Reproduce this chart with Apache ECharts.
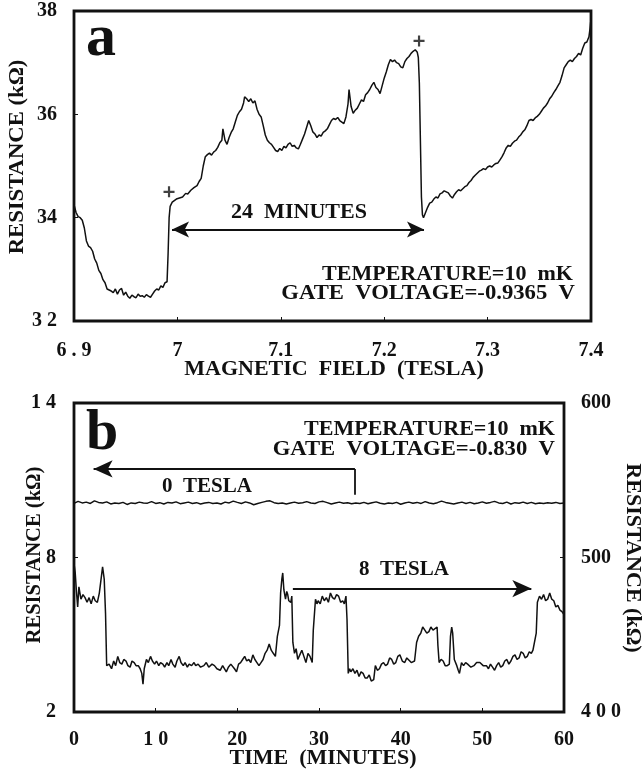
<!DOCTYPE html>
<html>
<head>
<meta charset="utf-8">
<script src="https://cdn.jsdelivr.net/npm/echarts@6/dist/echarts.min.js"></script>
<style>html,body{margin:0;padding:0;background:#fff}#c{width:642px;height:769px}</style>
</head>
<body>
<div id="c"></div>
<script>
// ---------- DATA ----------
// Panel a: resistance (kΩ) vs magnetic field (T)
const curveA = [
[6.900,34.25],[6.902,34.10],[6.904,34.02],[6.906,34.00],[6.908,33.95],[6.910,33.80],[6.912,33.55],[6.914,33.45],[6.916,33.42],[6.918,33.35],[6.920,33.20],[6.922,33.12],[6.924,32.98],[6.926,32.92],[6.928,32.80],[6.930,32.74],[6.932,32.62],[6.934,32.60],[6.936,32.58],[6.938,32.55],[6.940,32.62],[6.942,32.52],[6.944,32.60],[6.946,32.63],[6.948,32.50],[6.950,32.56],[6.952,32.48],[6.954,32.44],[6.956,32.50],[6.958,32.47],[6.960,32.45],[6.962,32.52],[6.964,32.48],[6.966,32.49],[6.968,32.46],[6.970,32.51],[6.972,32.48],[6.974,32.46],[6.976,32.52],[6.978,32.58],[6.980,32.62],[6.982,32.60],[6.984,32.68],[6.986,32.65],[6.988,32.74],[6.990,32.76],
[6.991,33.30],[6.992,34.00],[6.993,34.22],[6.995,34.30],[6.997,34.33],[6.999,34.36],[7.002,34.38],[7.005,34.40],[7.008,34.47],[7.010,34.46],[7.013,34.53],[7.016,34.58],[7.019,34.62],[7.021,34.70],[7.023,34.76],[7.025,35.00],[7.027,35.18],[7.029,35.22],[7.031,35.25],[7.033,35.21],[7.035,35.27],[7.037,35.30],[7.039,35.36],[7.041,35.45],[7.043,35.50],[7.044,35.72],[7.046,35.50],[7.048,35.42],[7.050,35.55],[7.052,35.65],[7.054,35.72],[7.056,35.85],[7.058,35.98],[7.060,36.05],[7.062,36.10],[7.064,36.22],[7.065,36.34],[7.067,36.30],[7.069,36.25],[7.071,36.30],[7.073,36.22],[7.075,36.26],[7.077,36.10],[7.079,36.00],[7.081,35.95],[7.083,35.78],[7.085,35.60],[7.087,35.50],[7.089,35.45],[7.091,35.42],[7.093,35.36],[7.095,35.30],[7.097,35.28],[7.099,35.34],[7.101,35.30],[7.103,35.38],[7.105,35.35],[7.107,35.42],[7.109,35.45],[7.111,35.38],[7.113,35.40],[7.115,35.35],[7.117,35.33],[7.119,35.42],[7.121,35.52],[7.123,35.62],[7.125,35.75],[7.127,35.88],[7.129,35.78],[7.131,35.66],[7.133,35.62],[7.135,35.55],[7.137,35.60],[7.139,35.58],[7.141,35.65],[7.143,35.68],[7.145,35.72],[7.147,35.80],[7.149,35.88],[7.151,35.92],[7.153,35.90],[7.155,35.94],[7.157,35.88],[7.159,35.85],[7.161,35.82],[7.163,35.95],[7.165,36.20],[7.166,36.48],[7.168,36.15],[7.170,36.02],[7.172,36.08],[7.174,36.12],[7.176,36.20],[7.178,36.28],[7.180,36.25],[7.182,36.38],[7.184,36.42],[7.186,36.48],[7.188,36.56],[7.190,36.62],[7.192,36.52],[7.194,36.48],[7.196,36.40],[7.198,36.55],[7.200,36.70],[7.202,36.82],[7.204,36.96],[7.206,37.06],[7.208,37.02],[7.210,37.05],[7.212,37.00],[7.214,36.98],[7.216,36.92],[7.218,36.90],[7.220,37.02],[7.222,37.08],[7.224,37.12],[7.226,37.18],[7.228,37.22],[7.230,37.25],[7.232,37.20],[7.233,37.10],[7.234,36.60],[7.235,35.50],[7.236,34.40],[7.237,34.05],[7.238,34.00],
[7.240,34.10],[7.242,34.20],[7.244,34.28],[7.246,34.30],[7.248,34.36],[7.250,34.40],[7.252,34.38],[7.254,34.46],[7.256,34.48],[7.258,34.52],[7.260,34.50],[7.262,34.48],[7.264,34.42],[7.266,34.38],[7.268,34.45],[7.270,34.50],[7.272,34.54],[7.274,34.52],[7.276,34.56],[7.278,34.60],[7.280,34.62],[7.282,34.68],[7.284,34.72],[7.286,34.78],[7.288,34.82],[7.290,34.86],[7.292,34.90],[7.294,34.92],[7.296,34.95],[7.298,34.93],[7.300,34.98],[7.302,35.00],[7.304,34.98],[7.306,35.02],[7.308,35.05],[7.310,35.06],[7.312,35.12],[7.314,35.18],[7.316,35.26],[7.318,35.35],[7.320,35.40],[7.322,35.38],[7.324,35.44],[7.326,35.48],[7.328,35.50],[7.330,35.56],[7.332,35.60],[7.334,35.66],[7.336,35.70],[7.338,35.78],[7.340,35.88],[7.342,35.90],[7.344,35.88],[7.346,35.93],[7.348,35.96],[7.350,36.00],[7.352,36.06],[7.354,36.12],[7.356,36.16],[7.358,36.22],[7.360,36.30],[7.362,36.35],[7.364,36.42],[7.366,36.48],[7.368,36.55],[7.370,36.62],[7.372,36.75],[7.374,36.90],[7.376,36.96],[7.378,37.02],[7.380,37.05],[7.382,37.02],[7.384,37.08],[7.386,37.12],[7.388,37.18],[7.390,37.15],[7.392,37.28],[7.394,37.38],[7.396,37.40],[7.398,37.50],[7.399,37.65],[7.400,37.85]
];
const plusMarksA = [[6.9919,34.50],[7.2337,37.42]];

// Panel b: resistance vs time (minutes)
const trace0T = [ // left axis, kΩ
[0,10.10],[0.5,10.18],[1,10.12],[1.5,10.15],[2,10.10],[2.5,10.20],[3,10.14],[3.5,10.12],[4,10.16],[4.5,10.08],[5,10.12],[5.5,10.10],[6,10.14],[6.5,10.06],[7,10.12],[7.5,10.10],[8,10.15],[8.5,10.12],[9,10.11],[9.5,10.17],[10,10.10],[10.5,10.13],[11,10.08],[11.5,10.14],[12,10.12],[12.5,10.16],[13,10.09],[13.5,10.12],[14,10.15],[14.5,10.10],[15,10.13],[15.5,10.08],[16,10.12],[16.5,10.14],[17,10.10],[17.5,10.12],[18,10.08],[18.5,10.15],[19,10.12],[19.5,10.19],[20,10.14],[20.5,10.10],[21,10.16],[21.5,10.12],[22,10.05],[22.5,10.10],[23,10.14],[23.5,10.18],[24,10.20],[24.5,10.13],[25,10.10],[25.5,10.12],[26,10.08],[26.5,10.12],[27,10.15],[27.5,10.11],[28,10.13],[28.5,10.17],[29,10.12],[29.5,10.10],[30,10.16],[30.5,10.18],[31,10.13],[31.5,10.08],[32,10.12],[32.5,10.15],[33,10.11],[33.5,10.13],[34,10.09],[34.5,10.12],[35,10.10],[35.5,10.14],[36,10.09],[36.5,10.13],[37,10.16],[37.5,10.11],[38,10.08],[38.5,10.12],[39,10.10],[39.5,10.14],[40,10.07],[40.5,10.12],[41,10.15],[41.5,10.11],[42,10.14],[42.5,10.10],[43,10.17],[43.5,10.12],[44,10.09],[44.5,10.13],[45,10.19],[45.5,10.14],[46,10.11],[46.5,10.08],[47,10.12],[47.5,10.15],[48,10.10],[48.5,10.14],[49,10.09],[49.5,10.12],[50,10.16],[50.5,10.11],[51,10.14],[51.5,10.18],[52,10.12],[52.5,10.10],[53,10.15],[53.5,10.08],[54,10.13],[54.5,10.11],[55,10.15],[55.5,10.10],[56,10.14],[56.5,10.09],[57,10.12],[57.5,10.10],[58,10.13],[58.5,10.11],[59,10.14],[59.5,10.10],[60,10.12]
];
const trace8T = [ // right axis, kΩ
[0,496],[0.15,490],[0.3,478],[0.45,468],[0.6,481],[0.85,473],[1.1,476],[1.35,474],[1.6,471],[1.85,474],[2.1,470],[2.36,475],[2.6,472],[2.86,471],[3.1,477],[3.36,488],[3.5,494],[3.7,486],[3.86,464],[4.0,430],[4.3,431],[4.6,428],[4.86,433],[5.1,430],[5.36,436],[5.6,432],[5.86,431],[6.1,434],[6.37,433],[6.6,430],[6.87,429],[7.1,433],[7.37,432],[7.6,430],[7.87,430],[8.1,428],[8.3,425],[8.45,418],[8.6,428],[8.87,434],[9.1,432],[9.37,436],[9.6,433],[9.87,431],[10.1,433],[10.38,430],[10.6,432],[10.88,431],[11.1,429],[11.38,432],[11.6,430],[11.88,434],[12.1,431],[12.38,429],[12.6,433],[12.88,436],[13.1,432],[13.38,430],[13.6,432],[13.88,429],[14.1,431],[14.4,430],[14.7,432],[14.9,430],[15.2,431],[15.5,429],[15.9,430],[16.2,432],[16.5,429],[16.9,431],[17.2,430],[17.5,428],[17.9,427],[18.2,430],[18.65,426],[18.9,429],[19.2,431],[19.4,430],[19.65,428],[19.9,426],[20.15,431],[20.4,432],[20.65,434],[20.9,436],[21.15,433],[21.4,434],[21.65,432],[21.9,437],[22.15,434],[22.4,432],[22.65,430],[22.9,432],[23.15,434],[23.4,438],[23.65,440],[23.9,444],[24.15,440],[24.4,438],[24.66,436],[24.9,449],[25.16,456],[25.3,477],[25.45,486],[25.56,490],[25.7,479],[25.9,473],[26.05,478],[26.17,476],[26.3,472],[26.4,473],[26.55,471],[26.67,475],[26.8,445],[27.0,438],[27.2,441],[27.4,434],[27.65,437],[27.9,440],[28.15,436],[28.4,432],[28.65,438],[28.9,436],[29.17,432],[29.3,453],[29.57,473],[29.75,470],[29.9,472],[30.15,470],[30.4,475],[30.65,472],[30.9,474],[31.15,471],[31.4,477],[31.65,474],[31.9,473],[32.15,476],[32.4,475],[32.65,471],[32.9,472],[33.1,470],[33.3,475],[33.43,460],[33.58,425],[33.75,428],[33.9,426],[34.15,428],[34.4,425],[34.65,427],[34.9,423],[35.15,426],[35.4,425],[35.65,422],[35.9,422],[36.15,424],[36.4,420],[36.7,421],[36.9,430],[37.15,427],[37.4,428],[37.65,431],[37.9,432],[38.15,430],[38.4,431],[38.65,435],[38.9,434],[39.15,431],[39.4,432],[39.65,436],[39.9,437],[40.2,433],[40.5,432],[40.75,435],[40.95,434],[41.3,432],[41.7,433],[41.95,445],[42.2,449],[42.46,451],[42.7,455],[42.96,453],[43.2,451],[43.46,452],[43.7,455],[43.96,453],[44.2,452],[44.46,455],[44.56,443],[44.71,432],[44.95,434],[45.2,433],[45.45,430],[45.7,430],[45.96,431],[46.1,449],[46.25,455],[46.37,451],[46.57,434],[46.87,430],[47.05,427],[47.2,425],[47.45,432],[47.7,430],[47.95,432],[48.2,431],[48.6,429],[48.97,430],[49.3,432],[49.7,432],[50.1,430],[50.5,430],[50.75,428],[51.0,431],[51.25,429],[51.5,427],[51.75,430],[52.0,432],[52.25,429],[52.5,430],[52.75,433],[53.0,434],[53.25,431],[53.5,433],[53.75,436],[54.0,437],[54.25,434],[54.5,435],[54.75,439],[55.0,438],[55.25,435],[55.5,436],[55.75,439],[56.0,438],[56.2,440],[56.4,439],[56.6,451],[56.74,471],[57.0,475],[57.25,473],[57.5,476],[57.75,472],[58.0,473],[58.25,477],[58.5,473],[58.75,472],[59.0,468],[59.25,469],[59.5,466],[59.75,465],[60.0,463]
];

// Tick labels (as printed)
const xTicksA = ['6 . 9','7','7.1','7.2','7.3','7.4'];
const yTicksA = ['3 2','34','36','38'];
const xTicksB = ['0','1 0','20','30','40','50','60'];
const yTicksBLeft = ['2','8','1 4'];
const yTicksBRight = ['4 0 0','500','600'];

// Annotation arrows (data coordinates)
const arrowA = [[6.9948,33.77],[7.2385,33.77]];
const arrow0T = [[34.4,10.44],[34.4,11.44],[2.4,11.44]];
const arrow8T = [[26.8,479.9],[56.0,479.9]];

// ---------- CHART ----------
const FONT = '"Liberation Serif","Times New Roman",serif';
const INK = '#111';
const chart = echarts.init(document.getElementById('c'), null, {renderer:'canvas'});

function tickFmt(labels, min, step){
  return function(v){ const i = Math.round((v-min)/step); return labels[i] !== undefined ? labels[i] : ''; };
}
function axisLab(labels, min, step, margin){
  return {margin, color:INK, fontFamily:FONT, fontWeight:'bold', fontSize:20, formatter:tickFmt(labels,min,step), showMinLabel:true, showMaxLabel:true};
}
const tick = {show:true, inside:true, length:4, lineStyle:{color:INK, width:1}};
function txt(text, x, y, size, align, sx, rot){
  return {type:'text', x, y, rotation: rot||0, scaleX: sx||1, silent:true, z:100,
    style:{text, fill:INK, font:'bold '+size+'px '+FONT, textAlign:align, align:align, textVerticalAlign:'middle', verticalAlign:'middle'}};
}
const plusPath = 'path://M4,0H6V4H10V6H6V10H4V6H0V4H4Z';

const option = {
  animation:false,
  backgroundColor:'#fff',
  grid:[
    {left:74, top:11, width:517, height:310, show:true, borderColor:INK, borderWidth:2.8, backgroundColor:'transparent'},
    {left:74, top:403, width:490, height:309, show:true, borderColor:INK, borderWidth:2.8, backgroundColor:'transparent'}
  ],
  xAxis:[
    {type:'value', gridIndex:0, min:6.9, max:7.4, interval:0.1, axisLine:{show:false}, axisTick:tick, splitLine:{show:false}, axisLabel:axisLab(xTicksA,6.9,0.1,20)},
    {type:'value', gridIndex:1, min:0, max:60, interval:10, axisLine:{show:false}, axisTick:tick, splitLine:{show:false}, axisLabel:axisLab(xTicksB,0,10,18)}
  ],
  yAxis:[
    {type:'value', gridIndex:0, min:32, max:38, interval:2, axisLine:{show:false}, axisTick:tick, splitLine:{show:false}, axisLabel:axisLab(yTicksA,32,2,17)},
    {type:'value', gridIndex:1, min:2, max:14, interval:6, axisLine:{show:false}, axisTick:tick, splitLine:{show:false}, axisLabel:axisLab(yTicksBLeft,2,6,18)},
    {type:'value', gridIndex:1, position:'right', min:400, max:600, interval:100, axisLine:{show:false}, axisTick:tick, splitLine:{show:false}, axisLabel:axisLab(yTicksBRight,400,100,17)}
  ],
  series:[
    {type:'line', xAxisIndex:0, yAxisIndex:0, data:curveA, showSymbol:false, lineStyle:{color:INK, width:1.5}, silent:true,
     markLine:{silent:true, symbol:['arrow','arrow'], symbolSize:[12,17], label:{show:false}, lineStyle:{color:INK, width:1.8, type:'solid'},
       data:[[{coord:arrowA[0]},{coord:arrowA[1]}]]}},
    {type:'scatter', xAxisIndex:0, yAxisIndex:0, data:plusMarksA, symbol:plusPath, symbolSize:11, itemStyle:{color:INK}, silent:true},
    {type:'line', xAxisIndex:1, yAxisIndex:1, data:trace0T, showSymbol:false, lineStyle:{color:INK, width:1.5}, silent:true,
     markLine:{silent:true, symbolSize:[13,19], label:{show:false}, lineStyle:{color:INK, width:1.8, type:'solid'},
       data:[
         [{coord:arrow0T[0], symbol:'none'},{coord:arrow0T[1], symbol:'none'}],
         [{coord:arrow0T[1], symbol:'none'},{coord:arrow0T[2], symbol:'arrow'}]
       ]}},
    {type:'line', xAxisIndex:1, yAxisIndex:2, data:trace8T, showSymbol:false, lineStyle:{color:INK, width:1.5}, silent:true,
     markLine:{silent:true, symbolSize:[13,19], label:{show:false}, lineStyle:{color:INK, width:1.8, type:'solid'},
       data:[[{coord:arrow8T[0], symbol:'none'},{coord:arrow8T[1], symbol:'arrow'}]]}}
  ],
  graphic:[
    // panel a
    txt('a', 86, 39, 60, 'left'),
    txt('24  MINUTES', 299, 213, 21, 'center', 1.05),
    txt('TEMPERATURE=10  mK', 573, 275, 21, 'right', 1.05),
    txt('GATE  VOLTAGE=-0.9365  V', 575, 294, 21, 'right', 1.08),
    txt('RESISTANCE (kΩ)', 17, 157, 22, 'center', 1.03, Math.PI/2),
    txt('MAGNETIC  FIELD  (TESLA)', 334, 369, 22, 'center', 1.0),
    // panel b
    txt('b', 86, 434, 58, 'left'),
    txt('TEMPERATURE=10  mK', 555, 430, 21, 'right', 1.05),
    txt('GATE  VOLTAGE=-0.830  V', 555, 450, 21, 'right', 1.08),
    txt('0  TESLA', 207, 487, 21, 'center', 1.0),
    txt('8  TESLA', 404, 570, 21, 'center', 1.0),
    txt('RESISTANCE (kΩ)', 35, 555, 20, 'center', 1.03, Math.PI/2),
    txt('RESISTANCE (kΩ)', 632, 558, 21, 'center', 1.05, -Math.PI/2),
    txt('TIME  (MINUTES)', 323, 758, 22, 'center', 1.0)
  ]
};
chart.setOption(option);
</script>
</body>
</html>
